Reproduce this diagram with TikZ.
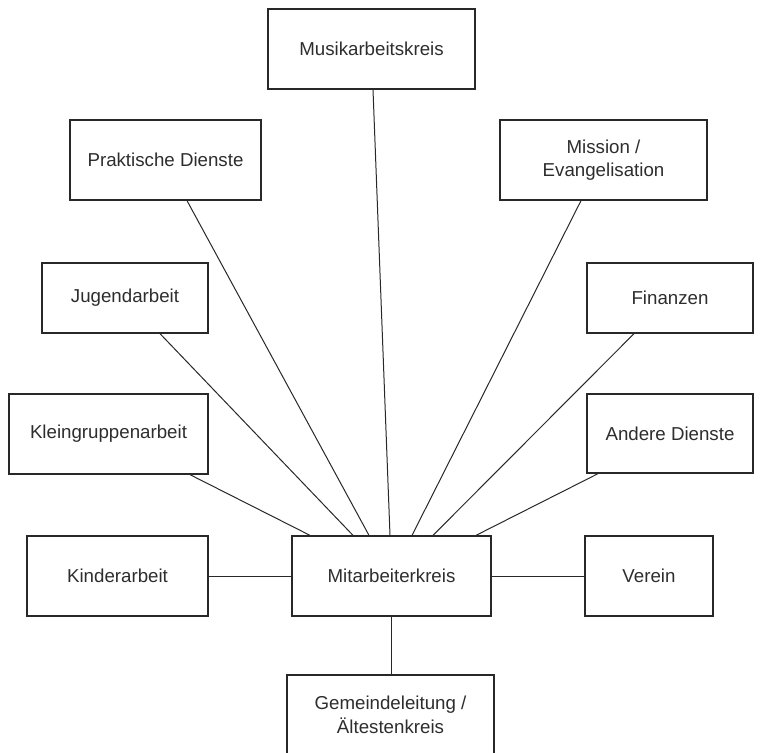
\documentclass[tikz,border=0pt]{standalone}
\usepackage{fontspec}
\setmainfont{Liberation Sans}
\definecolor{boxline}{RGB}{40,40,40}
\definecolor{boxtext}{RGB}{45,45,45}

\begin{document}
\begin{tikzpicture}[x=1pt,y=-1pt,
  box/.style={draw=boxline,line width=1.3pt,inner sep=0pt,minimum height=80pt,
    align=center,text=boxtext,font=\fontsize{18.7}{23.5}\selectfont},
  link/.style={draw=boxline,line width=1pt}]
\useasboundingbox (0,0) rectangle (773,752);
\node[box,minimum width=207pt] (musik) at (371.5,49) {Musikarbeitskreis};
\node[box,minimum width=191pt] (prakt) at (165.5,160) {Praktische Dienste};
\node[box,minimum width=207pt] (mission) at (603.5,160) {Mission /\\Evangelisation};
\node[box,minimum width=166pt,minimum height=70pt] (jugend) at (125,298) {Jugendarbeit};
\node[box,minimum width=166pt,minimum height=70pt] (finanzen) at (670,298) {Finanzen};
\node[box,minimum width=199pt] (klein) at (108.5,434) {Kleingruppenarbeit};
\node[box,minimum width=166pt,minimum height=79pt] (andere) at (670,433.5) {Andere Dienste};
\node[box,minimum width=181pt] (kinder) at (117.5,576) {Kinderarbeit};
\node[box,minimum width=199pt] (mak) at (391.5,576) {Mitarbeiterkreis};
\node[box,minimum width=128pt] (verein) at (649,576) {Verein};
\node[box,minimum width=207pt] (gemeinde) at (390.5,715) {Gemeindeleitung /\\Ältestenkreis};

\draw[link] ([xshift=1.5pt]musik.south) -- ([xshift=-1.5pt]mak.north);
\draw[link] ([xshift=21.5pt]prakt.south) -- ([xshift=-22.5pt]mak.north);
\draw[link] ([xshift=35pt]jugend.south) -- ([xshift=-38.5pt]mak.north);
\draw[link] ([xshift=81.5pt]klein.south) -- ([xshift=-81.5pt]mak.north);
\draw[link] ([xshift=-22.5pt]mission.south) -- ([xshift=20.5pt]mak.north);
\draw[link] ([xshift=-36pt]finanzen.south) -- ([xshift=41.5pt]mak.north);
\draw[link] ([xshift=-72pt]andere.south) -- ([xshift=84.5pt]mak.north);
\draw[link] (kinder.east) -- (mak.west);
\draw[link] (mak.east) -- (verein.west);
\draw[link] (mak.south) -- (mak.south |- gemeinde.north);
\end{tikzpicture}
\end{document}
